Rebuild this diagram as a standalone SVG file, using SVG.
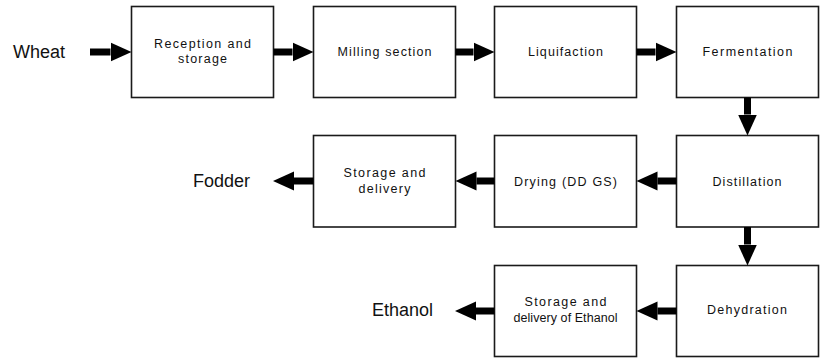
<svg xmlns="http://www.w3.org/2000/svg" width="822" height="358" viewBox="0 0 822 358">
  <style>
    .box rect { fill: #ffffff; stroke: #1a1a1a; stroke-width: 1.6; }
    .box text { font-family: "Liberation Sans", Arial, sans-serif; font-size: 12.5px; fill: #111111; text-anchor: middle; }
    .label { font-family: "Liberation Sans", Arial, sans-serif; font-size: 18px; fill: #111111; }
    .conn line { stroke: #000000; stroke-width: 7; stroke-linecap: butt; }
  </style>
  <defs>
    <marker id="head" markerUnits="userSpaceOnUse" markerWidth="22" markerHeight="20" refX="0" refY="10" orient="auto" viewBox="0 0 22 20">
      <path d="M0,0.5 L21,10 L0,19.5 Z" fill="#000000"/>
    </marker>
  </defs>

  <rect width="822" height="358" fill="#ffffff"/>

  <!-- free labels -->
  <text class="label" x="13" y="58">Wheat</text>
  <text class="label" x="193" y="187">Fodder</text>
  <text class="label" x="372" y="316">Ethanol</text>

  <!-- row 1 -->
  <g id="reception" class="box">
    <rect x="131.5" y="6.5" width="142" height="91"/>
    <text x="202.5" y="47.5" textLength="97" lengthAdjust="spacing">Reception and</text>
    <text x="202.5" y="63" textLength="49" lengthAdjust="spacing">storage</text>
  </g>
  <g id="milling" class="box">
    <rect x="313.5" y="6.5" width="142" height="91"/>
    <text x="384.5" y="56" textLength="94" lengthAdjust="spacing">Milling section</text>
  </g>
  <g id="liquifaction" class="box">
    <rect x="494.5" y="6.5" width="142" height="91"/>
    <text x="565.5" y="56" textLength="75" lengthAdjust="spacing">Liquifaction</text>
  </g>
  <g id="fermentation" class="box">
    <rect x="676.5" y="6.5" width="142" height="91"/>
    <text x="747.5" y="56" textLength="90" lengthAdjust="spacing">Fermentation</text>
  </g>

  <!-- row 2 -->
  <g id="storage-fodder" class="box">
    <rect x="313.5" y="135.5" width="142" height="91.5"/>
    <text x="384.5" y="177" textLength="82" lengthAdjust="spacing">Storage and</text>
    <text x="384.5" y="193" textLength="52" lengthAdjust="spacing">delivery</text>
  </g>
  <g id="drying" class="box">
    <rect x="494.5" y="135.5" width="142" height="91.5"/>
    <text x="565.5" y="185.5" textLength="103" lengthAdjust="spacing">Drying (DD GS)</text>
  </g>
  <g id="distillation" class="box">
    <rect x="676.5" y="135.5" width="142" height="91.5"/>
    <text x="747" y="185.5" textLength="69" lengthAdjust="spacing">Distillation</text>
  </g>

  <!-- row 3 -->
  <g id="storage-ethanol" class="box">
    <rect x="494.5" y="265.5" width="142" height="91"/>
    <text x="565.5" y="305.5" textLength="82" lengthAdjust="spacing">Storage and</text>
    <text x="565.5" y="321.5" textLength="104" lengthAdjust="spacing">delivery of Ethanol</text>
  </g>
  <g id="dehydration" class="box">
    <rect x="676.5" y="265.5" width="142" height="91"/>
    <text x="747" y="314" textLength="80" lengthAdjust="spacing">Dehydration</text>
  </g>

  <!-- connectors: shaft ends where the arrowhead base begins -->
  <g id="connectors" class="conn">
    <line x1="90" y1="52" x2="110.5" y2="52" marker-end="url(#head)"/>
    <line x1="273.5" y1="52" x2="292.5" y2="52" marker-end="url(#head)"/>
    <line x1="455.5" y1="52" x2="473.5" y2="52" marker-end="url(#head)"/>
    <line x1="636.5" y1="52" x2="655.5" y2="52" marker-end="url(#head)"/>
    <line x1="747.5" y1="97.5" x2="747.5" y2="114.5" marker-end="url(#head)"/>
    <line x1="676.5" y1="181" x2="657.5" y2="181" marker-end="url(#head)"/>
    <line x1="494.5" y1="181" x2="476.5" y2="181" marker-end="url(#head)"/>
    <line x1="313.5" y1="181" x2="294" y2="181" marker-end="url(#head)"/>
    <line x1="747.5" y1="227" x2="747.5" y2="244.5" marker-end="url(#head)"/>
    <line x1="676.5" y1="311" x2="657.5" y2="311" marker-end="url(#head)"/>
    <line x1="494.5" y1="311" x2="476" y2="311" marker-end="url(#head)"/>
  </g>
</svg>
